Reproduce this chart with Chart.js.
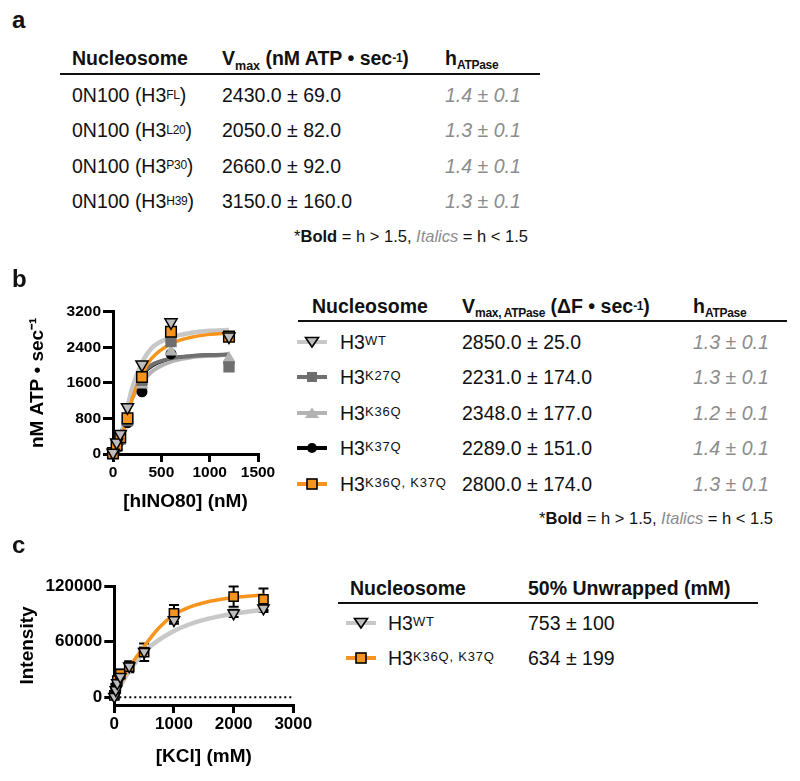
<!DOCTYPE html>
<html><head><meta charset="utf-8">
<script src="https://cdn.jsdelivr.net/npm/chart.js@4.4.1/dist/chart.umd.min.js"></script>
<style>
body{margin:0;background:#fff;}
#fig{position:relative;width:800px;height:781px;overflow:hidden;background:#fff;font-family:"Liberation Sans",Arial,Helvetica,sans-serif;color:#111;}
.t{position:absolute;white-space:nowrap;height:24px;line-height:24px;font-size:19.5px;}
.hd{font-weight:bold;}
.sup{font-size:13px;position:relative;top:-4px;letter-spacing:0.8px;}
.supA{font-size:12px;position:relative;top:-3.5px;letter-spacing:-0.3px;}
.subM{font-size:12.5px;position:relative;top:4.5px;font-weight:bold;}
.subA{font-size:12px;position:relative;top:3.5px;font-weight:bold;letter-spacing:-0.3px;}
.it{font-style:italic;color:#8c8c8c;}
.fn{font-size:16.5px;}
.rule{position:absolute;height:2px;background:#111;}
.lab{position:absolute;font-weight:bold;font-size:24px;line-height:30px;left:12px;}
canvas{position:absolute;}
</style></head>
<body>
<div id="fig">
  <canvas id="chartB" width="290" height="230" style="left:0;top:290px;width:290px;height:230px"></canvas>
  <canvas id="chartC" width="320" height="211" style="left:0;top:570px;width:320px;height:211px"></canvas>
</div>
<script>
// ---------------- DATA ----------------
// Panel a table
const histoneA = ['FL', 'L20', 'P30', 'H39'];
const vmaxA = [2430.0, 2050.0, 2660.0, 3150.0];
const vmaxErrA = [69.0, 82.0, 92.0, 160.0];
const hA = [1.4, 1.3, 1.4, 1.3];
const hErrA = [0.1, 0.1, 0.1, 0.1];

// Panel b table
const mutantsB = ['WT', 'K27Q', 'K36Q', 'K37Q', 'K36Q, K37Q'];
const vmaxB = [2850.0, 2231.0, 2348.0, 2289.0, 2800.0];
const vmaxErrB = [25.0, 174.0, 177.0, 151.0, 174.0];
const hB = [1.3, 1.3, 1.2, 1.4, 1.3];
const hErrB = [0.1, 0.1, 0.1, 0.1, 0.1];

// Panel b plot: [hINO80] (nM) vs nM ATP/sec
const hino80Conc = [0, 37.5, 75, 150, 300, 600, 1200];
const atpWT = [30, 260, 450, 1050, 2010, 2960, 2640];
const atpK27Q = [0, 180, 340, 750, 1660, 2530, 1960];
const atpK36Q = [0, 150, 320, 760, 1560, 2300, 2150];
const atpK37Q = [0, 130, 300, 700, 1400, 2250, 2050];
const atpK36QK37Q = [20, 200, 380, 800, 1730, 2750, 2640];
// fitted curves
const fitConcB = [0, 50, 100, 150, 200, 300, 400, 600, 800, 1000, 1200];
const fitWT = [0, 150, 550, 1050, 1500, 2050, 2380, 2620, 2720, 2770, 2790];
const fitK27Q = [0, 180, 560, 980, 1350, 1800, 2000, 2150, 2200, 2225, 2235];
const fitK36Q = [0, 150, 500, 900, 1250, 1600, 1850, 2080, 2170, 2210, 2230];
const fitK37Q = [0, 170, 545, 965, 1330, 1780, 1985, 2140, 2195, 2220, 2230];
const fitK36QK37Q = [0, 120, 450, 860, 1250, 1800, 2150, 2480, 2620, 2690, 2720];
const xTicksB = [0, 500, 1000, 1500];
const yTicksB = [0, 800, 1600, 2400, 3200];

// Panel c table
const mutantsC = ['WT', 'K36Q, K37Q'];
const unwrap50 = [753, 634];
const unwrap50Err = [100, 199];

// Panel c plot: [KCl] (mM) vs Intensity
const kclConc = [0, 25, 50, 100, 250, 500, 1000, 2000, 2500];
const intWT = [600, 7900, 15400, 22200, 33500, 49200, 83300, 90500, 95900];
const errWT = [2500, 2500, 2500, 3000, 3500, 4500, 4000, 4000, 4000];
const intK36QK37Q = [2000, 10000, 18000, 25000, 33000, 48600, 90500, 108500, 105700];
const errK36QK37Q = [3000, 4000, 4000, 5000, 6000, 9500, 9000, 11000, 11500];
const fitKcl = [0, 100, 250, 500, 750, 1000, 1250, 1500, 2000, 2500];
const fitIntWT = [0, 12000, 28000, 49000, 62000, 71500, 78500, 83500, 90000, 94500];
const fitIntK36QK37Q = [0, 14000, 32000, 55000, 75000, 89000, 97000, 102000, 107500, 110300];
const refLineX = [0, 3000];
const refLineY = [0, 0];
const xTicksC = [0, 1000, 2000, 3000];
const yTicksC = [0, 60000, 120000];

// ---------------- HTML TABLES ----------------
const fig = document.getElementById('fig');
function el(cls, style, html) {
  const e = document.createElement('div');
  if (cls) e.className = cls;
  Object.assign(e.style, style || {});
  if (html != null) e.innerHTML = html;
  fig.appendChild(e);
  return e;
}
function textAt(x, cy, html, cls) { return el('t ' + (cls || ''), {left: x + 'px', top: (cy - 12) + 'px'}, html); }
function textRight(xr, cy, html, cls) { return el('t ' + (cls || ''), {right: (800 - xr) + 'px', top: (cy - 12) + 'px'}, html); }
function rule(x1, x2, y) { el('rule', {left: x1 + 'px', width: (x2 - x1) + 'px', top: (y - 1) + 'px'}); }
const pm = (v, e, d) => v.toFixed(d) + ' ± ' + e.toFixed(d);
const footnote = '*<b>Bold</b> = h &gt; 1.5, <span class="it">Italics</span> = h &lt; 1.5';

const STY = {
  'WT': {line: '#c8c8c8', shape: 'tdown', fill: '#bdbdbd', stroke: '#000'},
  'K27Q': {line: '#707070', shape: 'rect', fill: '#6e6e6e', stroke: null},
  'K36Q': {line: '#b4b4b4', shape: 'tup', fill: '#b3b3b3', stroke: null},
  'K37Q': {line: '#000000', shape: 'circle', fill: '#000', stroke: null},
  'K36Q, K37Q': {line: '#f7941d', shape: 'rect', fill: '#f7941d', stroke: '#000'}
};
function legendIcon(cx, cy, key) {
  const s = STY[key];
  let m = '';
  const st = s.stroke ? ` stroke="${s.stroke}" stroke-width="1.6"` : '';
  if (s.shape === 'tdown') m = `<polygon points="8.5,3.5 21.5,3.5 15,13" fill="${s.fill}"${st}/>`;
  if (s.shape === 'tup') m = `<polygon points="8,13 22,13 15,2.5" fill="${s.fill}"${st}/>`;
  if (s.shape === 'rect') m = `<rect x="10" y="3" width="10" height="10" fill="${s.fill}"${st}/>`;
  if (s.shape === 'circle') m = `<circle cx="15" cy="8" r="5" fill="${s.fill}"/>`;
  el('', {position: 'absolute', left: (cx - 15) + 'px', top: (cy - 8) + 'px', width: '30px', height: '16px'},
    `<svg width="30" height="16" viewBox="0 0 30 16"><line x1="0" y1="8" x2="30" y2="8" stroke="${s.line}" stroke-width="4"/>${m}</svg>`);
}

// panel labels
el('lab', {top: '4.7px'}, 'a');
el('lab', {top: '263.7px'}, 'b');
el('lab', {top: '529.7px'}, 'c');

// table a
const rowsA = [95, 130, 165.5, 201];
textAt(72, 58, 'Nucleosome', 'hd');
textAt(222, 58, 'V<span class="subM">max</span> (nM ATP • sec<span class="supA" style="font-weight:bold">-1</span>)', 'hd');
textAt(445, 58, 'h<span class="subA">ATPase</span>', 'hd');
rule(60, 540, 74);
histoneA.forEach((h, i) => {
  textAt(72, rowsA[i], `0N100 (H3<span class="supA">${h}</span>)`);
  textAt(222, rowsA[i], pm(vmaxA[i], vmaxErrA[i], 1));
  textAt(445, rowsA[i], pm(hA[i], hErrA[i], 1), 'it');
});
textRight(528, 235.5, footnote, 'fn');

// table b
const rowsB = [341.7, 377.3, 413, 448, 484];
textAt(312, 306, 'Nucleosome', 'hd');
textAt(462, 306, 'V<span class="subA" style="top:4px">max, ATPase</span> (ΔF • sec<span class="supA" style="font-weight:bold">-1</span>)', 'hd');
textAt(693, 306, 'h<span class="subA">ATPase</span>', 'hd');
rule(298, 787, 321);
mutantsB.forEach((m, i) => {
  legendIcon(312, rowsB[i], m);
  textAt(340, rowsB[i], `H3<span class="sup">${m}</span>`);
  textAt(462, rowsB[i], pm(vmaxB[i], vmaxErrB[i], 1));
  textAt(693, rowsB[i], pm(hB[i], hErrB[i], 1), 'it');
});
textRight(773, 517.5, footnote, 'fn');

// table c
const rowsC = [623.3, 658.3];
textAt(350, 588.3, 'Nucleosome', 'hd');
textAt(528, 588.3, '50% Unwrapped (mM)', 'hd');
rule(338, 758, 603.3);
mutantsC.forEach((m, i) => {
  legendIcon(361, rowsC[i], m);
  textAt(388, rowsC[i], `H3<span class="sup">${m}</span>`);
  textAt(528, rowsC[i], unwrap50[i] + ' ± ' + unwrap50Err[i]);
});

// ---------------- CHARTS ----------------
const FONT = "'Liberation Sans', Arial, Helvetica, sans-serif";
const pts = (xs, ys) => xs.map((x, i) => ({x: x, y: ys[i]}));
function curve(xs, ys, color, width, order) {
  return {data: pts(xs, ys), showLine: true, pointRadius: 0, borderColor: color, borderWidth: width,
    cubicInterpolationMode: 'monotone', clip: false, order: order};
}
function marks(xs, ys, style, radius, bg, border, bw, order, rot) {
  return {data: pts(xs, ys), showLine: false, pointStyle: style, pointRadius: radius, pointRotation: rot || 0,
    pointBackgroundColor: bg, pointBorderColor: border, pointBorderWidth: bw, clip: false, order: order};
}
function axisOpts(o) {
  return {
    type: 'linear', min: o.min, max: o.max,
    afterBuildTicks: s => { s.ticks = o.ticks.map(v => ({value: v})); },
    afterFit: s => { if (o.width != null) s.width = o.width; if (o.height != null) s.height = o.height; },
    border: {display: true, color: '#000', width: 3},
    grid: {drawOnChartArea: false, drawTicks: true, tickLength: o.tl, color: '#000', lineWidth: 3},
    ticks: {padding: o.pad, color: '#000', font: {family: FONT, size: o.fs, weight: 'bold'}, maxRotation: 0, autoSkip: false,
      callback: v => String(v)},
    title: {display: true, text: o.title, color: '#000', font: {family: FONT, size: 19, weight: 'bold'}, padding: o.tpad}
  };
}
const errorBars = {
  id: 'errorBars',
  beforeDatasetsDraw(chart) {
    const {ctx, scales: {x, y}} = chart;
    ctx.save();
    ctx.strokeStyle = '#000';
    ctx.lineWidth = 2;
    chart.data.datasets.forEach(ds => {
      if (!ds.errors) return;
      ds.data.forEach((p, j) => {
        const e = ds.errors[j];
        const px = x.getPixelForValue(p.x);
        const t = y.getPixelForValue(p.y + e), b = y.getPixelForValue(p.y - e);
        ctx.beginPath();
        ctx.moveTo(px, t); ctx.lineTo(px, b);
        ctx.moveTo(px - 5, t); ctx.lineTo(px + 5, t);
        ctx.moveTo(px - 5, b); ctx.lineTo(px + 5, b);
        ctx.stroke();
      });
    });
    ctx.restore();
  }
};
const common = {responsive: false, animation: false, devicePixelRatio: 1,
  plugins: {legend: {display: false}, tooltip: {enabled: false}}};

new Chart(document.getElementById('chartB'), {
  type: 'scatter',
  data: {datasets: [
    curve(fitConcB, fitK37Q, STY['K37Q'].line, 4, 20),
    curve(fitConcB, fitK36Q, STY['K36Q'].line, 4, 19),
    curve(fitConcB, fitK27Q, STY['K27Q'].line, 4, 18),
    curve(fitConcB, fitWT, STY['WT'].line, 4.5, 17),
    curve(fitConcB, fitK36QK37Q, STY['K36Q, K37Q'].line, 3.5, 16),
    marks(hino80Conc, atpK37Q, 'circle', 5.5, '#000', '#000', 0, 10),
    marks(hino80Conc, atpK36Q, 'triangle', 7.5, STY['K36Q'].fill, STY['K36Q'].fill, 0, 9),
    marks(hino80Conc, atpK27Q, 'rect', 8, STY['K27Q'].fill, STY['K27Q'].fill, 0, 8),
    marks(hino80Conc, atpK36QK37Q, 'rect', 7.5, STY['K36Q, K37Q'].fill, '#000', 1.5, 7),
    marks(hino80Conc, atpWT, 'triangle', 7, STY['WT'].fill, '#000', 1.5, 6, 180)
  ]},
  options: Object.assign({}, common, {
    layout: {padding: {left: 0, top: 21.7, right: 32, bottom: 0}},
    scales: {
      x: axisOpts({min: 0, max: 1500, ticks: xTicksB, height: 66, tl: 8, pad: 1, fs: 15.5, title: '[hINO80] (nM)', tpad: {top: 0, bottom: 6.6}}),
      y: axisOpts({min: 0, max: 3200, ticks: yTicksB, width: 113, tl: 10, pad: 2, fs: 15.5, title: 'nM ATP • sec⁻¹', tpad: {top: 26, bottom: 0}})
    }
  })
});

new Chart(document.getElementById('chartC'), {
  type: 'scatter',
  data: {datasets: [
    {data: pts(refLineX, refLineY), showLine: true, pointRadius: 0, borderColor: '#000', borderWidth: 2, borderDash: [2, 3], clip: false, order: 30},
    curve(fitKcl, fitIntWT, STY['WT'].line, 4.5, 20),
    curve(fitKcl, fitIntK36QK37Q, STY['K36Q, K37Q'].line, 3.5, 19),
    Object.assign(marks(kclConc, intK36QK37Q, 'rect', 6.5, STY['K36Q, K37Q'].fill, '#000', 1.5, 8), {errors: errK36QK37Q}),
    Object.assign(marks(kclConc, intWT, 'triangle', 6.5, STY['WT'].fill, '#000', 1.5, 7, 180), {errors: errWT})
  ]},
  options: Object.assign({}, common, {
    layout: {padding: {left: 0, top: 16, right: 26.7, bottom: 0}},
    scales: {
      x: axisOpts({min: 0, max: 3000, ticks: xTicksC, height: 76, tl: 8, pad: 1.5, fs: 17, title: '[KCl] (mM)', tpad: {top: 0, bottom: 12.9}}),
      y: axisOpts({min: -8300, max: 120000, ticks: yTicksC, width: 114.3, tl: 10, pad: 2, fs: 17, title: 'Intensity', tpad: {top: 16.6, bottom: 0}})
    }
  }),
  plugins: [errorBars]
});
</script>
</body></html>
